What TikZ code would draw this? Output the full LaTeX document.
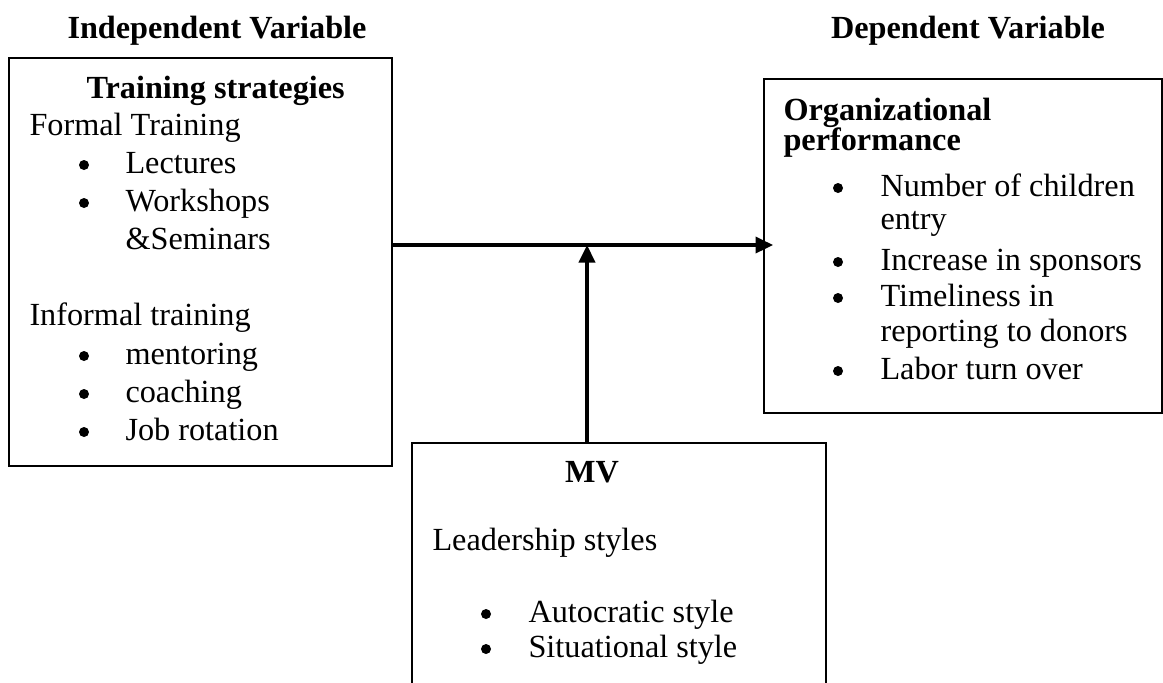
\documentclass[tikz,border=0pt]{standalone}
\usepackage{fontspec}
\setmainfont{Liberation Serif}
\usetikzlibrary{arrows.meta, positioning, calc}

\begin{document}
\begin{tikzpicture}[x=0.4pt, y=-0.4pt,
  box/.style={draw, line width=0.8pt, inner sep=0pt, anchor=north west},
  txt/.style={inner sep=0pt, anchor=base west, font=\fontsize{12.9}{15}\selectfont},
  head/.style={txt, font=\fontsize{12.9}{15}\selectfont\bfseries},
  flow/.style={line width=1.25pt, -{Triangle[length=7pt, width=6.5pt]}}]
% Frame
\clip (0,0) rectangle (1163,682);
% Column headings
\node[head, anchor=base] (indep) at (217,38) {Independent Variable};
\node[head, anchor=base] (dep) at (968,38) {Dependent Variable};
% Boxes
\node[box, minimum width=153.2pt, minimum height=163.2pt] (train) at (8,57) {};
\node[box, minimum width=159.2pt, minimum height=133.6pt] (perf) at (763,78) {};
\node[box, minimum width=165.6pt, minimum height=103.2pt] (mv) at (411,442) {};
% Independent variable box
\node[head] (train-t) at (86,98) {Training strategies};
\node[txt] (formal) at (29,135) {Formal Training};
\node[txt] (informal) at (29,325) {Informal training};
\foreach \n/\y/\t in {lec/173/Lectures, work/211/Workshops,
                      ment/364/mentoring, coach/402/coaching, job/440/Job rotation} {
  \fill (84,\y-8) circle (5);
  \node[txt] (i-\n) at (125,\y) {\t};
}
\node[txt] (i-sem) at (125,249) {\&Seminars};
% Dependent variable box
\node[head] (perf-t1) at (783,120) {Organizational};
\node[head] (perf-t2) at (783,150) {performance};
\foreach \n/\y/\t in {num/196/Number of children, inc/270/Increase in sponsors,
                      time/306/Timeliness in, lab/379/Labor turn over} {
  \fill (838,\y-8) circle (5);
  \node[txt] (i-\n) at (880,\y) {\t};
}
\node[txt] (i-entry) at (880,229) {entry};
\node[txt] (i-rep) at (880,341) {reporting to donors};
% Moderating variable box
\node[head, anchor=base] (mv-t) at (592,482) {MV};
\node[txt] (lead) at (432,550) {Leadership styles};
\foreach \n/\y/\t in {auto/622/Autocratic style, sit/657/Situational style} {
  \fill (486,\y-8) circle (5);
  \node[txt] (i-\n) at (528,\y) {\t};
}
% Connectors
\coordinate (join) at (587,245);
\coordinate (tip) at ($(perf.west |- join)+(10,0)$);
\draw[flow] (train.east |- join) -- (tip);
\draw[flow] (mv.north -| join) -- (join);
\end{tikzpicture}
\end{document}
